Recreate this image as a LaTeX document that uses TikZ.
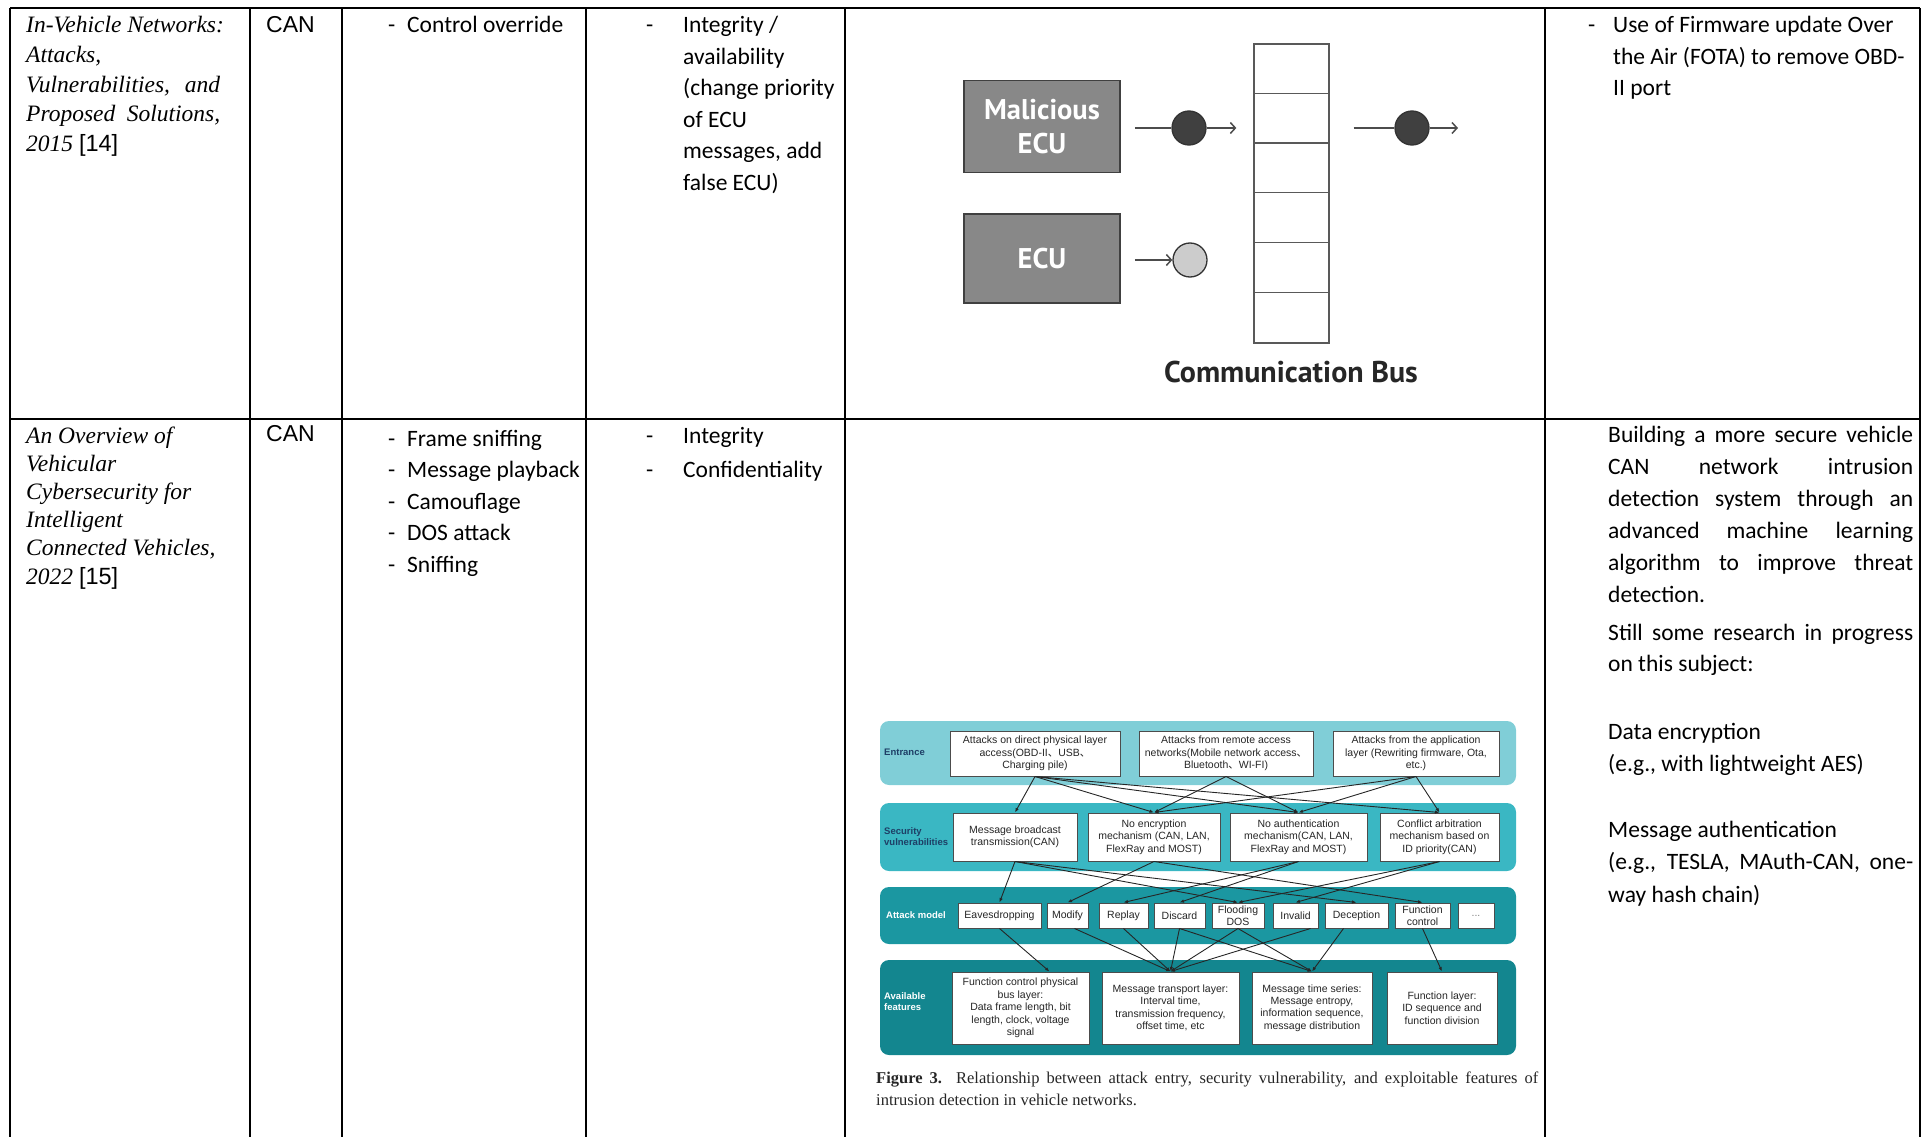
\documentclass[tikz,border=0pt]{standalone}
\usepackage{fontspec}
\setmainfont{Carlito}
\newfontfamily\tabserif{Liberation Serif}
\newfontfamily\tabsans{Liberation Sans}
\newfontfamily\figsans{PT Sans}
\newfontfamily\cjkfont{Noto Sans CJK SC}
\usetikzlibrary{arrows.meta,positioning}

% colours of the two figures
\definecolor{tealA}{HTML}{80CED7}
\definecolor{tealB}{HTML}{3AB7C3}
\definecolor{tealC}{HTML}{1B97A1}
\definecolor{tealD}{HTML}{13868F}
\definecolor{labnavy}{HTML}{1E3F66}
\definecolor{ecufill}{HTML}{888888}

\newcommand{\cellfont}{\fontsize{23.5}{31.5}\selectfont}
\newcommand{\titlefont}{\tabserif\itshape\fontsize{23.5}{29.6}\selectfont}
\newcommand{\boxfont}{\tabsans\fontsize{10.5}{12.4}\selectfont}
\newcommand{\dsh}{\makebox[19pt][l]{-}}
\newcommand{\jline}[2]{{\spaceskip=0pt\xspaceskip=0pt\makebox[#1][s]{#2}}}
\newcommand{\icomma}{{\cjkfont 、}}

\tikzset{
  tline/.style={line width=2.4pt},
  txt/.style={anchor=base west, inner sep=0pt, text width=#1, align=flush left},
  ecubox/.style={draw=black!75, fill=ecufill, line width=1.5pt, minimum width=156pt,
    text=white, align=flush center, font=\figsans\bfseries\fontsize{28.5}{34}\selectfont},
  msg/.style={circle, draw=black!80, line width=1.3pt, minimum size=34pt, inner sep=0pt},
  wire/.style={line width=1.5pt, draw=black!70},
  barb/.style={wire, -{Straight Barb[length=5pt,width=11pt]}},
  band/.style={rounded corners=9pt, minimum width=636pt, inner sep=0pt},
  blab/.style={anchor=west, inner sep=0pt, align=flush left,
    font=\tabsans\bfseries\fontsize{9.5}{11}\selectfont},
  fbox/.style={draw=black!70, fill=white, line width=1pt, inner sep=0pt, align=flush center,
    text=black!85, font=\boxfont},
  farr/.style={-{Latex[length=4.5pt,width=3.5pt]}, line width=0.9pt, draw=black!85},
}

\begin{document}
\begin{tikzpicture}[x=1pt, y=-1pt]
  \useasboundingbox (0,0) rectangle (1923,1137);

  % table grid
  \draw[tline] (10,8) -- (1920,8);
  \draw[tline] (10,419) -- (1920,419);
  \foreach \cx in {10,250,342,586,845,1545,1920}
    \draw[tline] (\cx,8) -- (\cx,1137);

  % row 1
  \node[txt=215pt, font=\titlefont] (ref1) at (26,33)
    {In-Vehicle Networks:\\ Attacks,\\ \jline{194pt}{Vulnerabilities, and}\\
     \jline{194pt}{Proposed Solutions,}\\ 2015 {\upshape\tabsans [14]}};
  \node[txt=80pt, font=\tabsans\fontsize{23}{28}\selectfont] (bus1) at (266,33) {CAN};
  \node[txt=190pt, font=\cellfont] (atk1) at (388,33) {\dsh Control override};
  \node[txt=30pt, font=\cellfont] (dsh1) at (646,33) {-};
  \node[txt=155pt, font=\cellfont] (prop1) at (683,33)
    {Integrity /\\ availability\\ (change priority\\ of ECU\\ messages, add\\ false ECU)};
  \node[txt=20pt, font=\cellfont] (dsh2) at (1588,33) {-};
  \node[txt=310pt, font=\cellfont] (sol1) at (1613,33)
    {Use of Firmware update Over\\ the Air (FOTA) to remove OBD-\\ II port};

  % row 2
  \node[txt=215pt, font=\titlefont\fontsize{23.5}{28.2}\selectfont] (ref2) at (26,443)
    {An Overview of\\ Vehicular\\ Cybersecurity for\\ Intelligent\\ Connected Vehicles,\\
     2022 {\upshape\tabsans [15]}};
  \node[txt=80pt, font=\tabsans\fontsize{23}{28}\selectfont] (bus2) at (266,441) {CAN};
  \node[txt=200pt, font=\cellfont] (atk2) at (388,446)
    {\dsh Frame sniffing\\ \dsh Message playback\\ \dsh Camouflage\\ \dsh DOS attack\\ \dsh Sniffing};
  \node[txt=30pt, font=\fontsize{23.5}{34}\selectfont] (dsh3) at (646,443) {-\\ -};
  \node[txt=155pt, font=\fontsize{23.5}{34}\selectfont] (prop2) at (683,443)
    {Integrity\\ Confidentiality};
  \node[txt=320pt, font=\fontsize{23.5}{32}\selectfont] (sol2) at (1608,442)
    {\jline{305pt}{Building a more secure vehicle}\\ \jline{305pt}{CAN network intrusion}\\
     \jline{305pt}{detection system through an}\\ \jline{305pt}{advanced machine learning}\\
     \jline{305pt}{algorithm to improve threat}\\ detection.};
  \node[txt=320pt, font=\cellfont] (sol3) at (1608,640)
    {\jline{305pt}{Still some research in progress}\\ on this subject:};
  \node[txt=320pt, font=\cellfont] (sol4) at (1608,739.5)
    {Data encryption\\ (e.g., with lightweight AES)};
  \node[txt=320pt, font=\fontsize{23.5}{32.5}\selectfont] (sol5) at (1608,837)
    {Message authentication\\ \jline{305pt}{(e.g., TESLA, MAuth-CAN, one-}\\ way hash chain)};

  % figure: malicious ECU on the bus
  \node[ecubox, minimum height=92pt] (mecu) at (1042,126.5) {Malicious\\ECU};
  \node[ecubox, minimum height=89pt] (ecu) at (1042,258.5) {ECU};
  \node[draw=black!65, line width=1.3pt, minimum width=75pt, minimum height=299pt,
    inner sep=0pt] (bus) at (1291.5,193.5) {};
  \foreach \i in {1,...,5}
    \draw[black!65, line width=1.3pt] ([yshift=-\i*49.83pt]bus.north west)
      -- ([yshift=-\i*49.83pt]bus.north east);
  \node[msg, fill=black!75] (msg1) at (1189,128) {};
  \node[msg, fill=black!20] (msg0) at (1190,260) {};
  \node[msg, fill=black!75] (msg2) at (1412,128) {};
  \coordinate (busout) at (1458,128);
  \draw[wire, shorten <=14pt] (mecu.east |- msg1) -- (msg1);
  \draw[barb, shorten >=17pt] (msg1) -- (msg1 -| bus.west);
  \draw[wire, shorten <=24pt] (bus.east |- msg2) -- (msg2);
  \draw[barb] (msg2) -- (busout);
  \draw[barb, shorten <=14pt] (ecu.east |- msg0) -- (msg0);
  \node[font=\figsans\bfseries\fontsize{30}{34}\selectfont, text=black!85] (buslab)
    at (1291,372) {Communication Bus};

  % figure: attack entry / vulnerability / features
  \node[band, fill=tealA, minimum height=64pt] (layE) at (1198,753) {};
  \node[band, fill=tealB, minimum height=68pt] (layV) at (1198,837) {};
  \node[band, fill=tealC, minimum height=57pt] (layA) at (1198,915.5) {};
  \node[band, fill=tealD, minimum height=95pt] (layF) at (1198,1007.5) {};
  \node[blab, text=labnavy] (labE) at (884,752) {Entrance};
  \node[blab, text=labnavy] (labV) at (884,837) {Security\\vulnerabilities};
  \node[blab, text=white] (labA) at (886,915.5) {Attack model};
  \node[blab, text=white] (labF) at (884,1002) {Available\\features};

  \node[fbox, minimum width=170pt, minimum height=45pt] (e1) at (1035,753.5)
    {Attacks on direct physical layer\\access(OBD-II\icomma USB\icomma\\Charging pile)};
  \node[fbox, minimum width=174pt, minimum height=45pt] (e2) at (1226,753.5)
    {Attacks from remote access\\networks(Mobile network access\icomma\\Bluetooth\icomma WI-FI)};
  \node[fbox, minimum width=166pt, minimum height=45pt] (e3) at (1416,753.5)
    {Attacks from the application\\layer (Rewriting firmware, Ota,\\etc.)};

  \node[fbox, minimum width=124pt, minimum height=48pt] (v1) at (1015,837)
    {Message broadcast\\transmission(CAN)};
  \node[fbox, minimum width=132pt, minimum height=48pt] (v2) at (1154,837)
    {No encryption\\mechanism (CAN, LAN,\\FlexRay and MOST)};
  \node[fbox, minimum width=137pt, minimum height=48pt] (v3) at (1298.5,837)
    {No authentication\\mechanism(CAN, LAN,\\FlexRay and MOST)};
  \node[fbox, minimum width=119pt, minimum height=48pt] (v4) at (1439.5,837)
    {Conflict arbitration\\mechanism based on\\ID priority(CAN)};

  \foreach \n/\cx/\w/\t in {a1/999.5/83/Eavesdropping, a2/1067.5/41/Modify,
      a3/1123.5/49/Replay, a4/1179.5/51/Discard, a5/1238/52/Flooding\\DOS,
      a6/1295.5/45/Invalid, a7/1356.5/63/Deception, a8/1422.5/55/Function\\control}
    \node[fbox, minimum width=\w pt, minimum height=25pt] (\n) at (\cx,915.5) {\t};
  \node[fbox, minimum width=36pt, minimum height=25pt, text=black!50] (a9) at (1476,915.5) {...};

  \node[fbox, minimum width=137pt, minimum height=72pt] (f1) at (1020.5,1008)
    {Function control physical\\bus layer:\\Data frame length, bit\\length, clock, voltage\\signal};
  \node[fbox, minimum width=137pt, minimum height=72pt] (f2) at (1170.5,1008)
    {Message transport layer:\\Interval time,\\transmission frequency,\\offset time, etc};
  \node[fbox, minimum width=120pt, minimum height=72pt] (f3) at (1312,1008)
    {Message time series:\\Message entropy,\\information sequence,\\message distribution};
  \node[fbox, minimum width=110pt, minimum height=72pt] (f4) at (1442,1008)
    {Function layer:\\ID sequence and\\function division};

  \foreach \s/\t in {e1/v1, e1/v2, e1/v3, e1/v4, e2/v2, e2/v3, e3/v2, e3/v3, e3/v4,
      v1/a1, v1/a5, v1/a7, v2/a2, v2/a8, v3/a3, v3/a4, v4/a5, v4/a6}
    \draw[farr] (\s.south) -- (\t.north);
  \foreach \s/\sx/\t/\tx in {a1/0/f1/29, a2/7/f2/0, a3/0/f2/0, a4/0/f2/0, a4/0/f3/0,
      a5/0/f2/0, a5/0/f3/0, a6/15/f2/0, a7/-13/f3/0, a8/0/f4/0}
    \draw[farr] ([xshift=\sx pt]\s.south) -- ([xshift=\tx pt]\t.north);

  \node[txt=662pt, font=\tabserif\fontsize{16.5}{22}\selectfont, text=black!85] (cap)
    at (876,1083)
    {\jline{662pt}{\textbf{Figure 3.}\ \ Relationship between attack entry, security vulnerability, and exploitable features of}\\
     intrusion detection in vehicle networks.};
\end{tikzpicture}
\end{document}
